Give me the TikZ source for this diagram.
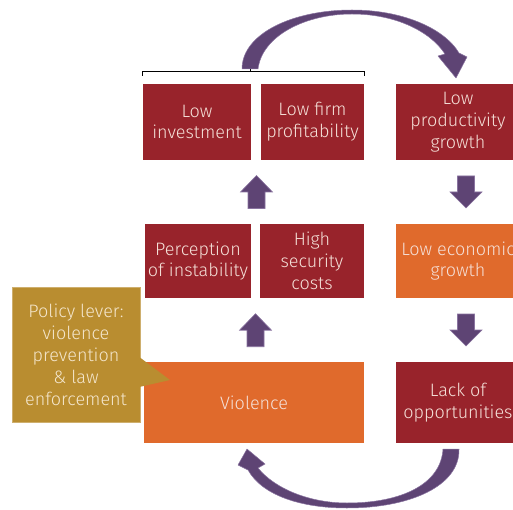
\documentclass[tikz,border=0pt]{standalone}
\usepackage{fontspec}
\setmainfont{Fira Sans Light}
\usetikzlibrary{calc}
\definecolor{dred}{HTML}{98232B}
\definecolor{orng}{HTML}{E06A2C}
\definecolor{gold}{HTML}{B98D30}
\definecolor{purp}{HTML}{5E4474}
\definecolor{purpl}{HTML}{8A74A0}
\definecolor{txt}{HTML}{F5E0D8}
\definecolor{ctxt}{HTML}{F4E6CC}
\begin{document}
\begin{tikzpicture}[x=1pt,y=-1pt,
  boxbase/.style={inner sep=0pt, align=center, text=txt, font=\fontsize{18}{21.8}\selectfont},
  redbox/.style={boxbase, fill=dred},
  orbox/.style={boxbase, fill=orng},
  callout/.style={boxbase, fill=gold, text=ctxt, draw=gold!70!white, line width=0.5pt},
  bracketline/.style={draw=black, line width=0.8pt},
  curvarrow/.style={fill=purp, draw=purpl, line width=0.5pt, line join=round},
  uparr/.pic={\fill[purp, draw=purpl, line width=0.6pt] (-8.5,16.5) -- (-8.5,0) -- (-16,0) -- (0,-16.5) -- (16,0) -- (8.5,0) -- (8.5,16.5) -- cycle;},
  downarr/.pic={\fill[purp, draw=purpl, line width=0.6pt] (-8.5,-16) -- (-8.5,0) -- (-16,0) -- (0,16) -- (16,0) -- (8.5,0) -- (8.5,-16) -- cycle;}
]
\useasboundingbox (0,0) rectangle (513,510);
\clip (0,0) rectangle (513,510);

% top row
\node[redbox, minimum width=108pt, minimum height=76pt] (inv) at (197,122) {Low\\investment};
\node[redbox, minimum width=103pt, minimum height=76pt] (prof) at (312.5,122) {Low firm\\profitability};
\node[redbox, minimum width=124pt, minimum height=76pt] (prod) at (458,122) {Low\\productivity\\growth};

% middle row
\node[redbox, minimum width=106pt, minimum height=74pt] (perc) at (198,261) {Perception\\of instability};
\node[redbox, minimum width=104pt, minimum height=74pt] (sec) at (312,261) {High\\security\\costs};
\node[orbox, minimum width=124pt, minimum height=74pt] (econ) at (458,261) {Low economic\\growth};

% bottom row
\node[orbox, minimum width=220pt, minimum height=81pt] (viol) at (254,402.5) {Violence};
\node[redbox, minimum width=124pt, minimum height=81pt] (lack) at (458,402.5) {Lack of\\opportunities};

% callout
\node[callout, minimum width=128pt, minimum height=135pt, font=\fontsize{18}{22}\selectfont] (policy) at (76,354.5) {Policy lever:\\violence\\prevention\\\& law\\enforcement};
\fill[gold] ($(policy.east)+(-1,2.5)$) -- (170,380) -- ($(policy.east)+(-1,32.5)$) -- cycle;

% bracket
\draw[bracketline] ($(inv.north west)+(0,-8)$) -- ($(inv.north west)+(0,-12)$) -- ($(prof.north east)+(0,-12)$) -- ($(prof.north east)+(0,-8)$);
\coordinate (bmid) at (250,72);
\draw[bracketline] (bmid) -- ++(0,-4);

% straight block arrows
\pic at ($(inv.south)!0.5!(perc.north)+(59,0)$) {uparr};
\pic at ($(sec.south west)!0.5!(perc.south east)+(0,32)$) {uparr};
\pic at ($(prod.south)!0.5!(econ.north)+(8,0)$) {downarr};
\pic at ($(econ.south)!0.5!(lack.north)+(8,0)$) {downarr};

% top curved arrow
\filldraw[curvarrow] (242,69) .. controls (242,34) and (292,10) .. (352,10)
  .. controls (402,10) and (444,28) .. (459,53)
  -- (467,57) -- (456,78) -- (438,56) -- (445,54)
  .. controls (430,31) and (395,14) .. (352,14)
  .. controls (305,14) and (262,36) .. (258,69) -- cycle;

% bottom curved arrow
\filldraw[curvarrow] (459,449) .. controls (460,486) and (410,508) .. (347,508)
  .. controls (300,508) and (262,495) .. (248,470)
  -- (238,465) -- (247,449) -- (265,464) -- (258,468)
  .. controls (275,489) and (310,503) .. (347,503)
  .. controls (402,503) and (441,484) .. (443,449) -- cycle;
\end{tikzpicture}
\end{document}
